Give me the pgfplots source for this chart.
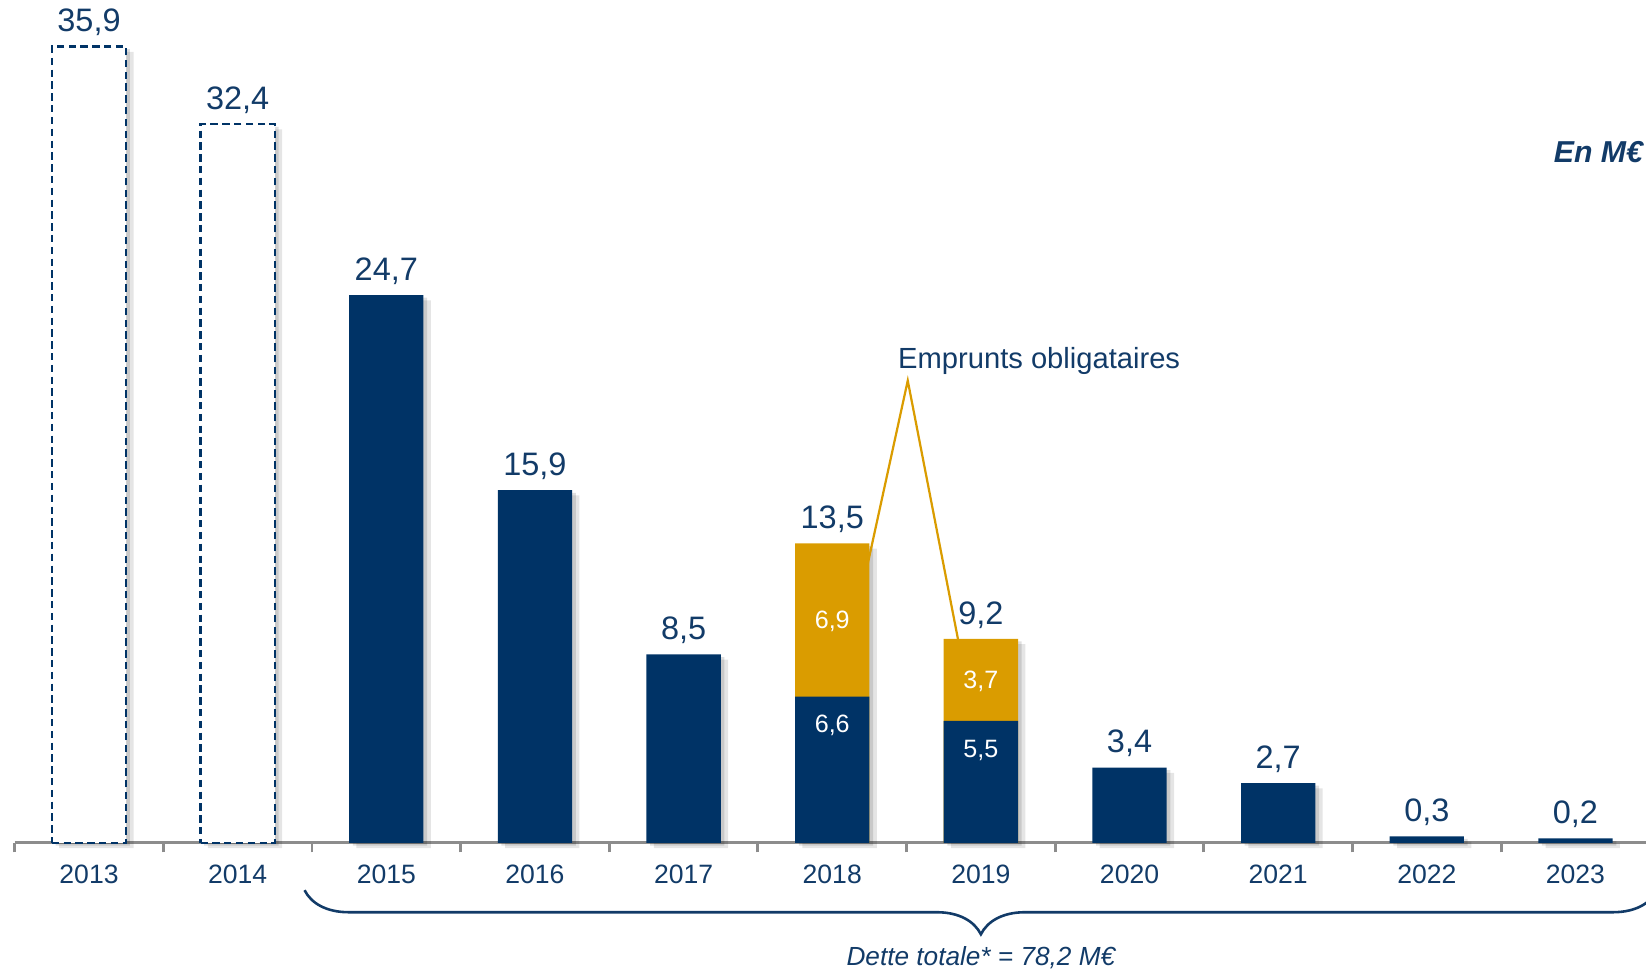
\documentclass[border=0pt]{standalone}
\usepackage{pgfplots}
\pgfplotsset{compat=1.18}
\usepackage{fontspec}
\setmainfont{Liberation Sans}
\usetikzlibrary{decorations.pathreplacing}
\definecolor{navy}{HTML}{003366}
\definecolor{gold}{HTML}{DA9C00}
\definecolor{txt}{HTML}{123B68}
\definecolor{tickgray}{HTML}{8C8C8C}
\begin{document}
\begin{tikzpicture}
\begin{axis}[
  at={(0,0)}, anchor=south west,
  scale only axis, width=15.576cm, height=8.03cm,
  xmin=-0.5, xmax=10.5, ymin=0, ymax=38,
  hide y axis, axis x line*=bottom,
  x axis line style={tickgray, line width=0.8pt},
  xtick={0,...,10},
  xticklabels={2013,2014,2015,2016,2017,2018,2019,2020,2021,2022,2023},
  major tick length=0pt,
  minor xtick={-0.5,0.5,1.5,2.5,3.5,4.5,5.5,6.5,7.5,8.5,9.5,10.5},
  minor tick length=0.09cm, tick align=outside,
  minor tick style={tickgray, line width=0.8pt},
  xticklabel style={text=txt, font=\fontsize{7.2}{8}\selectfont, yshift=-0.09cm},
  clip=false,
  /pgf/number format/use comma,
  /pgf/number format/fixed,
  /pgf/number format/fixed zerofill,
  /pgf/number format/precision=1,
  /pgf/number format/assume math mode=true,
]
% shadows
\addplot[ybar, bar width=0.5, bar shift=0pt, draw=none, fill=black, fill opacity=0.10, xshift=0.07cm, yshift=-0.05cm, forget plot]
  coordinates {(0,35.9) (1,32.4) (2,24.7) (3,15.9) (4,8.5) (5,13.5) (6,9.2) (7,3.4) (8,2.7) (9,0.3) (10,0.2)};
\addplot[ybar, bar width=0.5, bar shift=0pt, draw=none, fill=black, fill opacity=0.12, xshift=0.035cm, yshift=-0.025cm, forget plot]
  coordinates {(0,35.9) (1,32.4) (2,24.7) (3,15.9) (4,8.5) (5,13.5) (6,9.2) (7,3.4) (8,2.7) (9,0.3) (10,0.2)};
% dashed bars
\addplot[ybar, bar width=0.5, bar shift=0pt, draw=navy, fill=white, line width=0.6pt, dash pattern=on 2pt off 1.2pt]
  coordinates {(0,35.9) (1,32.4)};
% bond loans (total height)
\addplot[ybar, bar width=0.5, bar shift=0pt, draw=none, fill=gold]
  coordinates {(5,13.5) (6,9.2)};
% other debt
\addplot[ybar, bar width=0.5, bar shift=0pt, draw=none, fill=navy]
  coordinates {(2,24.7) (3,15.9) (4,8.5) (5,6.6) (6,5.5) (7,3.4) (8,2.7) (9,0.3) (10,0.2)};
% total labels
\addplot[draw=none, mark=none, nodes near coords, point meta=y,
  every node near coord/.append style={anchor=south, text=txt, font=\fontsize{8.8}{10}\selectfont, inner sep=1.5pt, yshift=0.04cm}]
  coordinates {(0,35.9) (1,32.4) (2,24.7) (3,15.9) (4,8.5) (5,13.5) (6,9.2) (7,3.4) (8,2.7) (9,0.3) (10,0.2)};
% inner labels
\addplot[draw=none, mark=none, nodes near coords, point meta=explicit,
  every node near coord/.append style={anchor=center, text=white, font=\fontsize{6.8}{8}\selectfont}]
  coordinates {(5,10.0) [6.9] (6,7.3) [3.7] (5,5.3) [6.6] (6,4.15) [5.5]};
% callout lines
\addplot[gold, line width=0.6pt, mark=none, sharp plot]
  coordinates {(5.198,11.33) (5.508,20.84) (5.86,8.70)};
\node[anchor=west, inner sep=0pt, text=txt, font=\fontsize{7.9}{9}\selectfont] at (axis cs:5.439,21.72) {Emprunts obligataires};
\node[anchor=west, inner sep=0pt, text=txt, font=\fontsize{8.2}{9}\selectfont\bfseries\itshape] at (axis cs:9.85,31.16) {En M€};
\draw[txt, line width=0.7pt, decorate, decoration={brace, mirror, amplitude=0.42cm}] (axis cs:1.45,-2.13) -- (axis cs:10.55,-2.13);
\node[text=txt, font=\fontsize{7.1}{8}\selectfont\itshape] at (axis cs:6,-5.16) {Dette totale* = 78,2 M€};
\end{axis}
\pgfresetboundingbox
\useasboundingbox (-0.14,-1.22) rectangle (15.54,8.03);
\end{tikzpicture}
\end{document}
